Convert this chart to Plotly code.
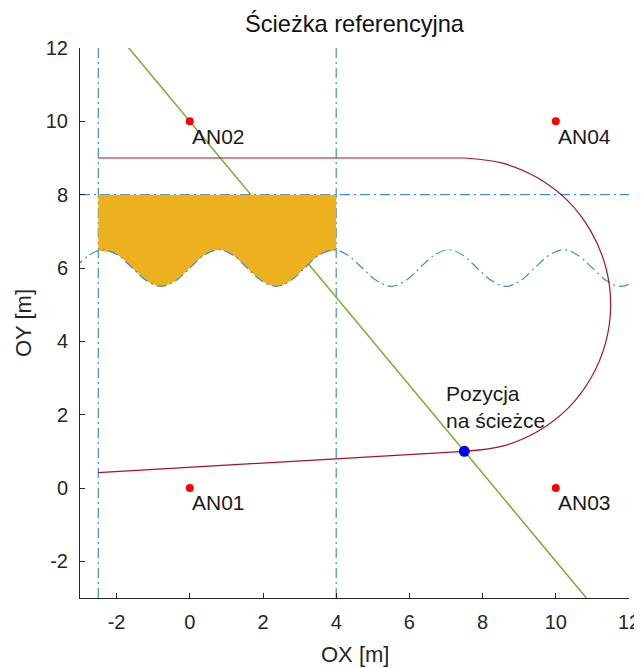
import plotly.graph_objects as go

# ---------------- data ----------------
# anchors
anchor_x = [0, 0, 10, 10]
anchor_y = [0, 10, 0, 10]
anchor_names = ["AN01", "AN02", "AN03", "AN04"]

# reference path: bottom straight, semicircular turn, top straight
path_bottom_x = [-2.5, 7.5]
path_bottom_y = [0.42, 1.0]
path_arc_x = [7.5, 8.54, 9.5, 10.33, 10.96, 11.36, 11.5, 11.36, 10.96, 10.33, 9.5, 8.54, 7.5]
path_arc_y = [1.0, 1.14, 1.54, 2.17, 3.0, 3.96, 5.0, 6.04, 7.0, 7.83, 8.46, 8.86, 9.0]
path_top_x = [7.5, -2.5]
path_top_y = [9.0, 9.0]

# current position on the path and the green normal line through it
pos_x = [7.5]
pos_y = [1.0]
normal_x = [-2.5, 11.67]
normal_y = [13.0, -4.0]

# dash-dot guide lines
vert_guides = [-2.5, 4.0]
horiz_guide = 8.0
wave_x = [-3.14, -2.75, -2.36, -1.96, -1.57, -1.18, -0.79, -0.39,
          0.0, 0.39, 0.79, 1.18, 1.57, 1.96, 2.36, 2.75,
          3.14, 3.53, 3.93, 4.32, 4.71, 5.11, 5.50, 5.89,
          6.28, 6.68, 7.07, 7.46, 7.85, 8.25, 8.64, 9.03,
          9.42, 9.82, 10.21, 10.60, 11.00, 11.39, 11.78, 12.17, 12.57]
wave_y = [6.0, 6.35, 6.5, 6.35, 6.0, 5.65, 5.5, 5.65,
          6.0, 6.35, 6.5, 6.35, 6.0, 5.65, 5.5, 5.65,
          6.0, 6.35, 6.5, 6.35, 6.0, 5.65, 5.5, 5.65,
          6.0, 6.35, 6.5, 6.35, 6.0, 5.65, 5.5, 5.65,
          6.0, 6.35, 6.5, 6.35, 6.0, 5.65, 5.5, 5.65, 6.0]

# filled (orange) region between y=8 and the wave for x in [-2.5, 4]
fill_top_x = [-2.5, 4.0]
fill_top_y = [8.0, 8.0]
fill_bot_x = [-2.5, -1.96, -1.57, -1.18, -0.79, -0.39, 0.0, 0.39, 0.79, 1.18,
              1.57, 1.96, 2.36, 2.75, 3.14, 3.53, 4.0]
fill_bot_y = [6.48, 6.35, 6.0, 5.65, 5.5, 5.65, 6.0, 6.35, 6.5, 6.35,
              6.0, 5.65, 5.5, 5.65, 6.0, 6.35, 6.49]

tick_vals = [-2, 0, 2, 4, 6, 8, 10, 12]
tick_text = ["-2", "0", "2", "4", "6", "8", "10", "12"]

# ---------------- styles ----------------
FONT = "Liberation Sans, Arial, sans-serif"
AX = "#262626"
BLUE_DASH = "#3D8FD1"
DASH = "10px,4px,2px,4px"

# the page body has an 8px margin, so the figure is sized to fit inside it
W, H = 634, 660
L, R, T, B = 72, 13, 40, 70
pw, ph = W - L - R, H - T - B

fig = go.Figure()

for gx in vert_guides:
    fig.add_trace(go.Scatter(x=[gx, gx], y=[-3, 12], mode="lines",
                             line=dict(color=BLUE_DASH, width=1.2, dash=DASH),
                             hoverinfo="skip", showlegend=False))
fig.add_trace(go.Scatter(x=[-3, 12.5], y=[horiz_guide, horiz_guide], mode="lines",
                         line=dict(color=BLUE_DASH, width=1.2, dash=DASH),
                         hoverinfo="skip", showlegend=False))

fig.add_trace(go.Scatter(x=normal_x, y=normal_y, mode="lines",
                         line=dict(color="#77AC30", width=1.5),
                         showlegend=False))

fig.add_trace(go.Scatter(x=fill_top_x, y=fill_top_y, mode="lines",
                         line=dict(width=0, color="#EDB120"),
                         hoverinfo="skip", showlegend=False))
fig.add_trace(go.Scatter(x=fill_bot_x, y=fill_bot_y, mode="lines",
                         line=dict(width=0, color="#EDB120", shape="spline"),
                         fill="tonexty", fillcolor="#EDB120",
                         hoverinfo="skip", showlegend=False))

fig.add_trace(go.Scatter(x=wave_x, y=wave_y, mode="lines",
                         line=dict(color=BLUE_DASH, width=1.2, dash=DASH, shape="spline"),
                         showlegend=False))

for px, py, shp in [(path_bottom_x, path_bottom_y, "linear"),
                    (path_arc_x, path_arc_y, "spline"),
                    (path_top_x, path_top_y, "linear")]:
    fig.add_trace(go.Scatter(x=px, y=py, mode="lines",
                             line=dict(color="#A2142F", width=1.2, shape=shp),
                             showlegend=False))

fig.add_trace(go.Scatter(x=anchor_x, y=anchor_y, mode="markers",
                         marker=dict(color="#FF0000", size=8),
                         showlegend=False))
fig.add_trace(go.Scatter(x=pos_x, y=pos_y, mode="markers",
                         marker=dict(color="#0000FF", size=11),
                         showlegend=False))

for ax_, ay_, name in zip(anchor_x, anchor_y, anchor_names):
    fig.add_annotation(x=ax_, y=ay_ - 0.4, xref="x", yref="y", text=name,
                       showarrow=False, xanchor="left", yanchor="middle",
                       font=dict(family=FONT, size=21, color="#1a1a1a"))
fig.add_annotation(x=pos_x[0] - 0.55, y=pos_y[0] + 1.2, xref="x", yref="y",
                   text="Pozycja<br>na ścieżce", align="left",
                   showarrow=False, xanchor="left", yanchor="middle",
                   font=dict(family=FONT, size=21, color="#1a1a1a"))

# axis titles placed as annotations
fig.add_annotation(x=0.5, y=-(647 - (H - B)) / ph, xref="paper", yref="paper",
                   text="OX [m]", showarrow=False,
                   xanchor="center", yanchor="middle",
                   font=dict(family=FONT, size=22, color=AX))
fig.add_annotation(x=-(L - 15) / pw, y=0.5, xref="paper", yref="paper",
                   text="OY [m]", textangle=-90, showarrow=False,
                   xanchor="center", yanchor="middle",
                   font=dict(family=FONT, size=22, color=AX))

fig.update_layout(
    width=W, height=H,
    margin=dict(l=L, r=R, t=T, b=B, autoexpand=False),
    paper_bgcolor="white", plot_bgcolor="white",
    title=dict(text="Ścieżka referencyjna", x=(L + pw / 2) / W, xanchor="center",
               y=1 - 16 / H, yanchor="middle", yref="container",
               font=dict(family=FONT, size=23.6, color="#111111")),
    xaxis=dict(range=[-3, 12], tickvals=tick_vals, ticktext=tick_text,
               showgrid=False, zeroline=False, showline=True, linecolor=AX,
               linewidth=1, ticks="inside", ticklen=5, tickcolor=AX,
               tickfont=dict(family=FONT, size=20, color=AX),
               ticklabelstandoff=6, mirror=False, automargin=False),
    yaxis=dict(range=[-3, 12], tickvals=tick_vals, ticktext=tick_text,
               showgrid=False, zeroline=False, showline=True, linecolor=AX,
               linewidth=1, ticks="inside", ticklen=5, tickcolor=AX,
               tickfont=dict(family=FONT, size=20, color=AX),
               ticklabelstandoff=7, mirror=False, automargin=False),
    showlegend=False,
)

fig.write_html("out.html")
